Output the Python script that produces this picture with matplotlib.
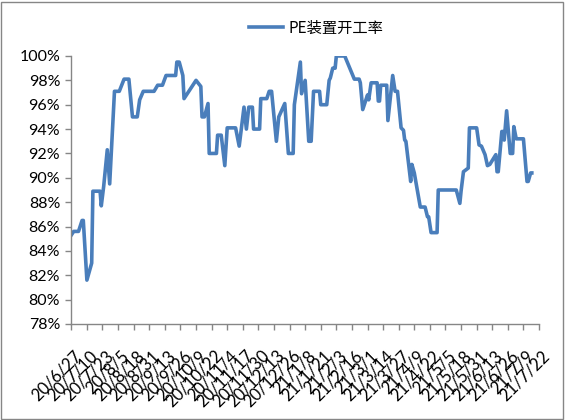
import matplotlib
matplotlib.use("Agg")
import matplotlib.pyplot as plt
import matplotlib.transforms as mtransforms
from matplotlib.patches import Rectangle
import pandas as pd
import numpy as np

start_date = "2020-06-27"
end_date = "2021-07-22"
series_name = "PE装置开工率"

# day offset from start_date, operating rate (%)
day_offset = [0, 2, 6, 9, 10, 11, 13, 17, 18, 24, 25, 27, 30, 32, 36, 40, 44, 48, 51, 55,
              57, 60, 69, 72, 76, 79, 87, 88, 90, 93, 94, 104, 108, 109, 111, 114, 115, 121, 122, 125,
              128, 130, 137, 140, 144, 146, 148, 151, 152, 157, 158, 163, 165, 167, 171, 173, 178, 181, 185, 186,
              191, 192, 195, 198, 200, 202, 207, 208, 213, 215, 216, 218, 220, 221, 228, 236, 240, 241, 243, 247,
              248, 250, 255, 256, 257, 258, 263, 264, 268, 270, 272, 275, 277, 278, 279, 283, 284, 286, 291, 295,
              297, 298, 300, 305, 306, 321, 324, 325, 327, 331, 332, 338, 340, 342, 345, 347, 349, 354, 355, 356,
              359, 360, 361, 363, 366, 368, 369, 371, 377, 380, 381, 383, 384]
rate = [85.3, 85.6, 85.6, 86.5, 86.5, 84.9, 81.6, 83.0, 88.9, 88.9, 87.7, 89.3, 92.3, 89.5, 97.1, 97.1, 98.1, 98.1, 95.0, 95.0,
        96.4, 97.1, 97.1, 97.6, 97.6, 98.4, 98.4, 99.5, 99.5, 98.4, 96.5, 98.0, 97.5, 95.0, 95.0, 96.1, 92.0, 92.0, 93.5, 93.5,
        91.0, 94.1, 94.1, 92.6, 95.8, 94.0, 95.8, 95.8, 94.0, 94.0, 96.5, 96.5, 97.1, 97.1, 93.0, 95.0, 96.1, 92.0, 92.0, 96.0,
        99.5, 96.9, 98.0, 93.0, 93.0, 97.1, 97.1, 96.0, 96.0, 98.0, 98.2, 99.0, 99.0, 100.0, 100.0, 98.1, 98.1, 97.8, 95.6, 96.8,
        96.4, 97.8, 97.8, 96.3, 96.3, 97.6, 97.6, 94.7, 98.4, 97.1, 97.1, 94.1, 93.9, 93.1, 93.0, 89.7, 91.1, 90.4, 87.6, 87.6,
        86.8, 86.8, 85.5, 85.5, 89.0, 89.0, 87.9, 88.9, 90.5, 90.8, 94.1, 94.1, 92.7, 92.6, 91.9, 91.0, 91.1, 91.9, 90.5, 90.5,
        93.8, 93.8, 93.1, 95.5, 92.0, 92.0, 94.2, 93.2, 93.2, 89.7, 89.7, 90.4, 90.4]

tick_step_days = 13
y_ticks = [78, 80, 82, 84, 86, 88, 90, 92, 94, 96, 98, 100]

t0 = pd.Timestamp(start_date)
dates = t0 + pd.to_timedelta(day_offset, unit="D")
tick_dates = pd.date_range(start_date, end_date, freq=f"{tick_step_days}D")
tick_labels = [f"{d.year % 100}/{d.month}/{d.day}" for d in tick_dates]

fig = plt.figure(figsize=(5.65, 4.2), dpi=100)
ax = fig.add_axes([0.1262, 0.2286, 0.954 - 0.1262, 0.8667 - 0.2286])

line_color = "#4A7EBB"
ax.plot(dates, rate, color=line_color, lw=2.6, solid_joinstyle="round", label=series_name)

ax.set_xlim(pd.Timestamp(start_date), pd.Timestamp(end_date))
ax.set_ylim(78, 100)
ax.set_yticks(y_ticks)
ax.set_yticklabels([f"{v}%" for v in y_ticks])
ax.set_xticks(tick_dates)
ax.set_xticklabels(tick_labels)

axis_gray = "#868686"
for s in ["top", "right"]:
    ax.spines[s].set_visible(False)
for s in ["left", "bottom"]:
    ax.spines[s].set_color(axis_gray)
    ax.spines[s].set_linewidth(1.0)
ax.tick_params(axis="both", colors=axis_gray, length=4, width=1.0, labelcolor="black")
ax.tick_params(axis="y", labelsize=11.5, pad=4)
ax.tick_params(axis="x", labelsize=12, pad=17)

offset = mtransforms.ScaledTranslation(8 / 100, 0, fig.dpi_scale_trans)
for lab in ax.get_xticklabels():
    lab.set_rotation(45)
    lab.set_rotation_mode("anchor")
    lab.set_ha("right")
    lab.set_va("center")
    lab.set_fontfamily("Lato")
    lab.set_transform(lab.get_transform() + offset)
for lab in ax.get_yticklabels():
    lab.set_fontfamily("Lato")

leg = fig.legend(loc="center", bbox_to_anchor=(0.56, 0.933), frameon=False,
                 handlelength=2.2, handletextpad=0.4,
                 prop={"family": ["Noto Sans CJK SC", "DejaVu Sans"], "size": 11})

fig.patches.append(Rectangle((0.002, 0.002), 0.994, 0.994, transform=fig.transFigure,
                             fill=False, edgecolor=axis_gray, lw=1.0))

fig.savefig("out.png", dpi=100)
